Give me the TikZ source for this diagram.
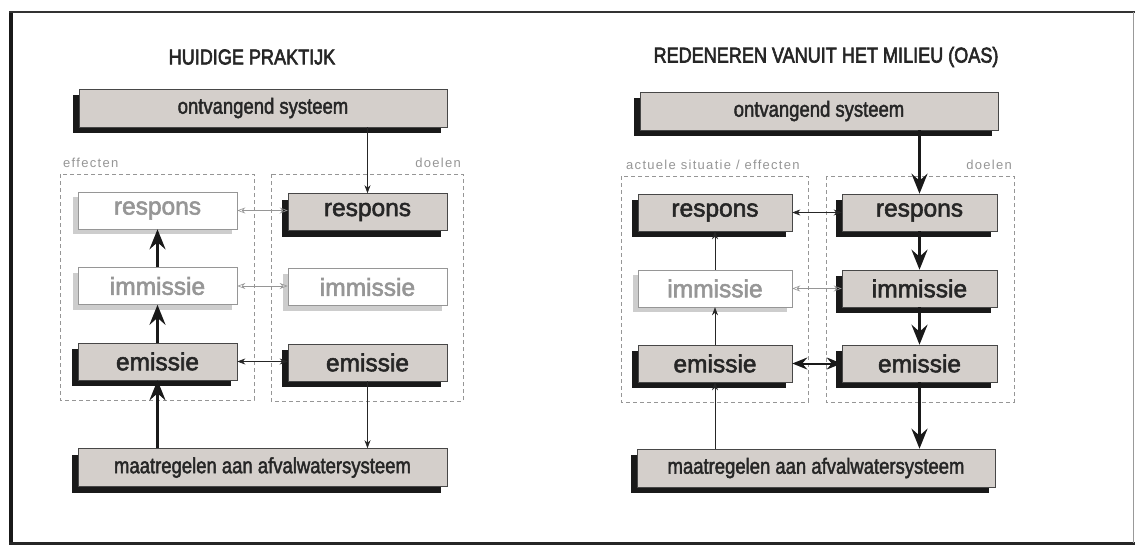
\documentclass[tikz,border=0pt]{standalone}
\usepackage{fontspec}
\usepackage{graphicx}
\setmainfont{Liberation Sans}
\newfontfamily\heavyface[FakeBold=2.2]{Liberation Sans}
\newfontfamily\titleface[FakeBold=3]{Liberation Sans}
\newfontfamily\spaced[LetterSpace=10]{Liberation Sans}
\usetikzlibrary{arrows.meta,shadows}

\definecolor{boxfill}{RGB}{212,207,203}
\definecolor{ink}{RGB}{38,38,38}
\definecolor{faint}{RGB}{150,150,150}
\definecolor{dashgray}{RGB}{150,150,150}
\definecolor{palegray}{RGB}{205,205,205}

% horizontally condensed text for titles and wide boxes
\newcommand{\tight}[1]{\scalebox{0.84}[1]{#1}}

\tikzset{
  solidbox/.style={draw=ink!85, line width=0.6pt, fill=boxfill, inner sep=0pt,
    minimum height=37pt, text=ink, font=\heavyface\fontsize{24.5}{26}\selectfont,
    drop shadow={shadow xshift=-6pt, shadow yshift=-6pt, fill=black!90, opacity=1}},
  emptybox/.style={draw=faint, line width=0.6pt, fill=white, inner sep=0pt,
    minimum height=37pt, text=faint, font=\heavyface\fontsize{24.5}{26}\selectfont,
    drop shadow={shadow xshift=-5pt, shadow yshift=-5pt, fill=palegray, opacity=1}},
  widebox/.style={solidbox, minimum height=38pt, font=\heavyface\fontsize{22}{24}\selectfont},
  region/.style={draw=dashgray, line width=0.6pt, dash pattern=on 4pt off 3pt},
  regionlabel/.style={text=faint, font=\spaced\fontsize{13}{14}\selectfont, inner sep=0pt},
  heading/.style={text=ink, font=\titleface\fontsize{21.5}{23}\selectfont, inner sep=0pt},
  heavy/.style={draw=black!90, line width=3pt, -{Stealth[length=20pt,width=16pt,inset=7pt]}},
  heavyboth/.style={draw=black!90, line width=2pt, {Stealth[length=15pt,width=12pt,inset=5pt]}-{Stealth[length=15pt,width=12pt,inset=5pt]}},
  light/.style={draw=ink, line width=0.6pt, -{Stealth[length=8pt,width=6pt]}},
  lightboth/.style={draw=ink, line width=0.6pt, {Stealth[length=8pt,width=6pt]}-{Stealth[length=8pt,width=6pt]}},
  paleboth/.style={draw=faint, line width=0.6pt, {Stealth[length=8pt,width=6pt,open]}-{Stealth[length=8pt,width=6pt,open]}},
}

\begin{document}
\begin{tikzpicture}[x=1pt,y=-1pt]
\useasboundingbox (0,0) rectangle (1135,547);
\fill[white] (0,0) rectangle (1135,547);

% outer frame
\draw[line width=4pt, black!90] (11,12) -- (11,545);
\draw[line width=2pt, black!80] (9,12) -- (1135,12);
\draw[line width=3pt, black!85] (9,543) -- (1135,543);
\draw[line width=1pt, black!40] (1133,12) -- (1133,543);

% ---------------- left panel ----------------
\node[heading] (tL) at (252,57) {\tight{HUIDIGE PRAKTIJK}};

\draw[region] (60,174) rectangle (254,400);
\draw[region] (271,174) rectangle (463,401);
\node[regionlabel, anchor=base west] (lbLa) at (63,167) {effecten};
\node[regionlabel, anchor=base east] (lbLb) at (461,167) {doelen};

\node[widebox, minimum width=368pt] (Lont) at (263,108) {\tight{ontvangend systeem}};
\node[emptybox, minimum width=159pt] (Lr1) at (157.5,210.5) {respons};
\node[solidbox, minimum width=159pt] (Lr2) at (367.5,212) {respons};
\node[emptybox, minimum width=159pt] (Li1) at (157.5,286) {immissie};
\node[emptybox, minimum width=159pt] (Li2) at (367.5,287) {immissie};
\node[solidbox, minimum width=159pt] (Le1) at (157.5,361.5) {emissie};
\node[solidbox, minimum width=159pt] (Le2) at (367.5,362.5) {emissie};
\node[widebox, minimum width=369pt] (Lmaat) at (262.5,467.5) {\tight{maatregelen aan afvalwatersysteem}};

\draw[light] (Lr2.north |- Lont.south) -- (Lr2.north);
\draw[light] (Le2.south) -- (Le2.south |- Lmaat.north);
\draw[heavy] (Le1.south |- Lmaat.north) -- (Le1.south);
\draw[heavy] (Le1.north) -- (Li1.south);
\draw[heavy] (Li1.north) -- (Lr1.south);
\draw[paleboth] (Lr1.east) -- (Lr1.east -| Lr2.west);
\draw[paleboth] (Li1.east) -- (Li1.east -| Li2.west);
\draw[lightboth] (Le1.east) -- (Le1.east -| Le2.west);

% ---------------- right panel ----------------
\node[heading] (tR) at (826,57) {\tight{REDENEREN VANUIT HET MILIEU (OAS)}};

\draw[region] (621,176) rectangle (808,402);
\draw[region] (826,176) rectangle (1014,402);
\node[regionlabel, anchor=base west] (lbRa) at (626,169) {actuele situatie / effecten};
\node[regionlabel, anchor=base east] (lbRb) at (1012,169) {doelen};

\node[widebox, minimum width=358pt] (Ront) at (819,111) {\tight{ontvangend systeem}};
\node[solidbox, minimum width=154pt] (Rr1) at (715,212.5) {respons};
\node[solidbox, minimum width=155pt] (Rr2) at (919.5,212.5) {respons};
\node[emptybox, minimum width=154pt] (Ri1) at (715,288.5) {immissie};
\node[solidbox, minimum width=155pt] (Ri2) at (919.5,288.5) {immissie};
\node[solidbox, minimum width=154pt] (Re1) at (715,363.5) {emissie};
\node[solidbox, minimum width=155pt] (Re2) at (919.5,363.5) {emissie};
\node[widebox, minimum width=358pt] (Rmaat) at (816,468) {\tight{maatregelen aan afvalwatersysteem}};

\draw[heavy] (Rr2.north |- Ront.south) -- (Rr2.north);
\draw[heavy] (Rr2.south) -- (Ri2.north);
\draw[heavy] (Ri2.south) -- (Re2.north);
\draw[heavy] (Re2.south) -- (Re2.south |- Rmaat.north);
\draw[light] (Re1.south |- Rmaat.north) -- (Re1.south);
\draw[light] (Re1.north) -- (Ri1.south);
\draw[light] (Ri1.north) -- (Rr1.south);
\draw[lightboth] (Rr1.east) -- (Rr1.east -| Rr2.west);
\draw[paleboth] (Ri1.east) -- (Ri1.east -| Ri2.west);
\draw[heavyboth] (Re1.east) -- (Re1.east -| Re2.west);
\end{tikzpicture}
\end{document}
